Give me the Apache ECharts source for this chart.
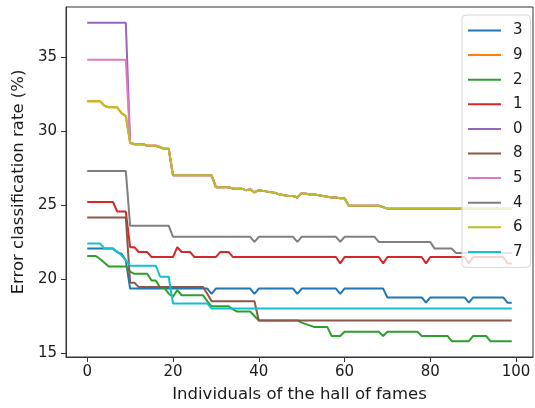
<!DOCTYPE html>
<html>
<head>
<meta charset="utf-8">
<script src="https://cdn.jsdelivr.net/npm/echarts@6/dist/echarts.min.js"></script>
<style>
  html, body { margin: 0; padding: 0; background: #fff; }
  #chart { width: 535px; height: 408px; }
</style>
</head>
<body>
<div id="chart"></div>
<script>
// legend order / series names
const names = ['3', '9', '2', '1', '0', '8', '5', '4', '6', '7']
const colors = ['#1f77b4', '#ff7f0e', '#2ca02c', '#d62728', '#9467bd',
  '#8c564b', '#e377c2', '#7f7f7f', '#bcbd22', '#17becf']

const xTicks = [0, 20, 40, 60, 80, 100]
const yTicks = [15, 20, 25, 30, 35]

// error classification rate (%) for individuals 0..99
const s3 = [
  22.05, 22.05, 22.05, 22.05, 22.05, 22.05, 22.05, 21.8, 21.7, 21.25,
  19.35, 19.35, 19.35, 19.35, 19.35, 19.35, 19.35, 19.35, 19.35, 19.35,
  19.35, 19.35, 19.35, 19.35, 19.35, 19.35, 19.35, 19.35, 19.35, 19.0,
  19.35, 19.35, 19.35, 19.35, 19.35, 19.35, 19.35, 19.35, 19.35, 19.0,
  19.35, 19.35, 19.35, 19.35, 19.35, 19.35, 19.35, 19.35, 19.35, 19.0,
  19.35, 19.35, 19.35, 19.35, 19.35, 19.35, 19.35, 19.35, 19.35, 19.0,
  19.35, 19.35, 19.35, 19.35, 19.35, 19.35, 19.35, 19.35, 19.35, 19.35,
  18.75, 18.75, 18.75, 18.75, 18.75, 18.75, 18.75, 18.75, 18.75, 18.4,
  18.75, 18.75, 18.75, 18.75, 18.75, 18.75, 18.75, 18.75, 18.75, 18.4,
  18.75, 18.75, 18.75, 18.75, 18.75, 18.75, 18.75, 18.75, 18.4, 18.4
]
const s6 = [
  32.0, 32.0, 32.0, 32.0, 31.7, 31.6, 31.6, 31.6, 31.2, 31.0,
  29.2, 29.1, 29.1, 29.1, 29.0, 29.0, 29.0, 28.9, 28.8, 28.8,
  27.0, 27.0, 27.0, 27.0, 27.0, 27.0, 27.0, 27.0, 27.0, 27.0,
  26.2, 26.2, 26.2, 26.2, 26.1, 26.1, 26.1, 26.0, 26.05, 25.85,
  26.0, 25.95, 25.9, 25.85, 25.8, 25.7, 25.65, 25.6, 25.6, 25.5,
  25.8, 25.75, 25.7, 25.7, 25.65, 25.6, 25.55, 25.5, 25.5, 25.45,
  25.45, 24.95, 24.95, 24.95, 24.95, 24.95, 24.95, 24.95, 24.95, 24.85,
  24.75, 24.75, 24.75, 24.75, 24.75, 24.75, 24.75, 24.75, 24.75, 24.75,
  24.75, 24.75, 24.75, 24.75, 24.75, 24.75, 24.75, 24.75, 24.75, 24.75,
  24.75, 24.75, 24.75, 24.75, 24.75, 24.75, 24.75, 24.75, 24.75, 24.75
]
// 9 lies fully under 6
const s9 = s6.slice()
const s2 = [
  21.55, 21.55, 21.55, 21.35, 21.1, 20.85, 20.85, 20.85, 20.85, 20.85,
  20.5, 20.35, 20.35, 20.35, 20.35, 19.9, 19.9, 19.4, 19.4, 19.0,
  18.8, 19.25, 18.9, 18.9, 18.9, 18.9, 18.9, 18.9, 18.5, 18.15,
  18.15, 18.15, 18.15, 18.15, 17.95, 17.8, 17.8, 17.8, 17.8, 17.5,
  17.2, 17.2, 17.2, 17.2, 17.2, 17.2, 17.2, 17.2, 17.2, 17.2,
  17.05, 16.95, 16.85, 16.75, 16.75, 16.75, 16.75, 16.15, 16.15, 16.15,
  16.43, 16.43, 16.43, 16.43, 16.43, 16.43, 16.43, 16.43, 16.43, 16.15,
  16.43, 16.43, 16.43, 16.43, 16.43, 16.43, 16.43, 16.43, 16.15, 16.15,
  16.15, 16.15, 16.15, 16.15, 16.15, 15.8, 15.8, 15.8, 15.8, 15.8,
  16.15, 16.15, 16.15, 16.15, 15.8, 15.8, 15.8, 15.8, 15.8, 15.8
]
const s1 = [
  25.2, 25.2, 25.2, 25.2, 25.2, 25.2, 25.2, 24.55, 24.55, 24.55,
  22.15, 22.15, 21.82, 21.82, 21.82, 21.48, 21.48, 21.48, 21.48, 21.48,
  21.48, 22.15, 21.82, 21.82, 21.82, 21.48, 21.48, 21.48, 21.48, 21.48,
  21.48, 21.82, 21.82, 21.82, 21.48, 21.48, 21.48, 21.48, 21.48, 21.48,
  21.48, 21.48, 21.48, 21.48, 21.48, 21.48, 21.48, 21.48, 21.48, 21.48,
  21.48, 21.48, 21.48, 21.48, 21.48, 21.48, 21.48, 21.48, 21.48, 21.05,
  21.48, 21.48, 21.48, 21.48, 21.48, 21.48, 21.48, 21.48, 21.48, 21.05,
  21.48, 21.48, 21.48, 21.48, 21.48, 21.48, 21.48, 21.48, 21.48, 21.05,
  21.48, 21.48, 21.48, 21.48, 21.48, 21.48, 21.48, 21.48, 21.48, 21.05,
  21.48, 21.48, 21.48, 21.48, 21.48, 21.48, 21.48, 21.48, 21.05, 21.05
]
const s0 = [
  37.3, 37.3, 37.3, 37.3, 37.3, 37.3, 37.3, 37.3, 37.3, 37.3,
  29.2, 29.1, 29.1, 29.1, 29.0, 29.0, 29.0, 28.9, 28.8, 28.8,
  27.0, 27.0, 27.0, 27.0, 27.0, 27.0, 27.0, 27.0, 27.0, 27.0,
  26.2, 26.2, 26.2, 26.2, 26.1, 26.1, 26.1, 26.0, 26.05, 25.85,
  26.0, 25.95, 25.9, 25.85, 25.8, 25.7, 25.65, 25.6, 25.6, 25.5,
  25.8, 25.75, 25.7, 25.7, 25.65, 25.6, 25.55, 25.5, 25.5, 25.45,
  25.45, 24.95, 24.95, 24.95, 24.95, 24.95, 24.95, 24.95, 24.95, 24.85,
  24.75, 24.75, 24.75, 24.75, 24.75, 24.75, 24.75, 24.75, 24.75, 24.75,
  24.75, 24.75, 24.75, 24.75, 24.75, 24.75, 24.75, 24.75, 24.75, 24.75,
  24.75, 24.75, 24.75, 24.75, 24.75, 24.75, 24.75, 24.75, 24.75, 24.75
]
const s8 = [
  24.15, 24.15, 24.15, 24.15, 24.15, 24.15, 24.15, 24.15, 24.15, 24.15,
  19.75, 19.75, 19.45, 19.45, 19.45, 19.45, 19.45, 19.45, 19.45, 19.45,
  19.45, 19.45, 19.45, 19.45, 19.45, 19.45, 19.45, 19.45, 19.0, 18.5,
  18.5, 18.5, 18.5, 18.5, 18.5, 18.5, 18.5, 18.5, 18.5, 18.5,
  17.2, 17.2, 17.2, 17.2, 17.2, 17.2, 17.2, 17.2, 17.2, 17.2,
  17.2, 17.2, 17.2, 17.2, 17.2, 17.2, 17.2, 17.2, 17.2, 17.2,
  17.2, 17.2, 17.2, 17.2, 17.2, 17.2, 17.2, 17.2, 17.2, 17.2,
  17.2, 17.2, 17.2, 17.2, 17.2, 17.2, 17.2, 17.2, 17.2, 17.2,
  17.2, 17.2, 17.2, 17.2, 17.2, 17.2, 17.2, 17.2, 17.2, 17.2,
  17.2, 17.2, 17.2, 17.2, 17.2, 17.2, 17.2, 17.2, 17.2, 17.2
]
const s5 = [
  34.8, 34.8, 34.8, 34.8, 34.8, 34.8, 34.8, 34.8, 34.8, 34.8,
  29.2, 29.1, 29.1, 29.1, 29.0, 29.0, 29.0, 28.9, 28.8, 28.8,
  27.0, 27.0, 27.0, 27.0, 27.0, 27.0, 27.0, 27.0, 27.0, 27.0,
  26.2, 26.2, 26.2, 26.2, 26.1, 26.1, 26.1, 26.0, 26.05, 25.85,
  26.0, 25.95, 25.9, 25.85, 25.8, 25.7, 25.65, 25.6, 25.6, 25.5,
  25.8, 25.75, 25.7, 25.7, 25.65, 25.6, 25.55, 25.5, 25.5, 25.45,
  25.45, 24.95, 24.95, 24.95, 24.95, 24.95, 24.95, 24.95, 24.95, 24.85,
  24.75, 24.75, 24.75, 24.75, 24.75, 24.75, 24.75, 24.75, 24.75, 24.75,
  24.75, 24.75, 24.75, 24.75, 24.75, 24.75, 24.75, 24.75, 24.75, 24.75,
  24.75, 24.75, 24.75, 24.75, 24.75, 24.75, 24.75, 24.75, 24.75, 24.75
]
const s4 = [
  27.3, 27.3, 27.3, 27.3, 27.3, 27.3, 27.3, 27.3, 27.3, 27.3,
  23.6, 23.6, 23.6, 23.6, 23.6, 23.6, 23.6, 23.6, 23.6, 23.6,
  22.85, 22.85, 22.85, 22.85, 22.85, 22.85, 22.85, 22.85, 22.85, 22.85,
  22.85, 22.85, 22.85, 22.85, 22.85, 22.85, 22.85, 22.85, 22.85, 22.5,
  22.85, 22.85, 22.85, 22.85, 22.85, 22.85, 22.85, 22.85, 22.85, 22.5,
  22.85, 22.85, 22.85, 22.85, 22.85, 22.85, 22.85, 22.85, 22.85, 22.5,
  22.85, 22.85, 22.85, 22.85, 22.85, 22.85, 22.85, 22.85, 22.5, 22.5,
  22.5, 22.5, 22.5, 22.5, 22.5, 22.5, 22.5, 22.5, 22.5, 22.5,
  22.5, 22.05, 22.05, 22.05, 22.05, 22.05, 21.75, 21.75, 21.75, 21.75,
  21.75, 21.75, 21.75, 21.75, 21.75, 21.75, 21.75, 21.75, 21.75, 21.75
]
const s7 = [
  22.4, 22.4, 22.4, 22.4, 22.05, 22.05, 22.05, 21.85, 21.6, 21.25,
  20.9, 20.9, 20.9, 20.9, 20.9, 20.9, 20.9, 20.15, 20.15, 20.15,
  18.35, 18.35, 18.35, 18.35, 18.35, 18.35, 18.35, 18.35, 18.35, 18.0,
  18.0, 18.0, 18.0, 18.0, 18.0, 18.0, 18.0, 18.0, 18.0, 18.0,
  18.0, 18.0, 18.0, 18.0, 18.0, 18.0, 18.0, 18.0, 18.0, 18.0,
  18.0, 18.0, 18.0, 18.0, 18.0, 18.0, 18.0, 18.0, 18.0, 18.0,
  18.0, 18.0, 18.0, 18.0, 18.0, 18.0, 18.0, 18.0, 18.0, 18.0,
  18.0, 18.0, 18.0, 18.0, 18.0, 18.0, 18.0, 18.0, 18.0, 18.0,
  18.0, 18.0, 18.0, 18.0, 18.0, 18.0, 18.0, 18.0, 18.0, 18.0,
  18.0, 18.0, 18.0, 18.0, 18.0, 18.0, 18.0, 18.0, 18.0, 18.0
]

const seriesValues = [s3, s9, s2, s1, s0, s8, s5, s4, s6, s7]
const textColor = '#1a1a1a'
const font = 'DejaVu Sans'

const chart = echarts.init(document.getElementById('chart'), null, { renderer: 'canvas' })

chart.setOption({
  animation: false,
  backgroundColor: '#fff',
  grid: {
    left: 66,
    top: 7,
    right: 2,
    bottom: 51,
    show: true,
    borderColor: '#333',
    borderWidth: 1
  },
  legend: {
    data: names,
    orient: 'vertical',
    left: 462,
    top: 15,
    icon: 'rect',
    itemWidth: 33,
    itemHeight: 2,
    itemGap: 9.6,
    padding: [8, 8, 8, 6],
    backgroundColor: 'rgba(255,255,255,0.8)',
    borderColor: '#d5d5d5',
    borderWidth: 1,
    borderRadius: 4,
    textStyle: {
      fontFamily: font, fontSize: 15, lineHeight: 14, color: textColor, padding: [0, 0, 0, 7]
    }
  },
  xAxis: {
    type: 'value',
    min: -4.95,
    max: 103.95,
    name: 'Individuals of the hall of fames',
    nameLocation: 'middle',
    nameGap: 29,
    nameTextStyle: { fontFamily: font, fontSize: 16.5, color: textColor },
    axisLine: { show: true, onZero: false, lineStyle: { color: '#333', width: 1 } },
    axisTick: { show: true, length: 5, customValues: xTicks, lineStyle: { color: '#333' } },
    axisLabel: { customValues: xTicks, margin: 8, fontFamily: font, fontSize: 15, color: textColor },
    splitLine: { show: false }
  },
  yAxis: {
    type: 'value',
    min: 14.73,
    max: 38.37,
    name: 'Error classification rate (%)',
    nameLocation: 'middle',
    nameGap: 34,
    nameTextStyle: { fontFamily: font, fontSize: 16.5, color: textColor },
    axisLine: { show: true, onZero: false, lineStyle: { color: '#333', width: 1 } },
    axisTick: { show: true, length: 5, customValues: yTicks, lineStyle: { color: '#333' } },
    axisLabel: { customValues: yTicks, margin: 9, fontFamily: font, fontSize: 15, color: textColor },
    splitLine: { show: false }
  },
  series: names.map((name, k) => ({
    name,
    type: 'line',
    symbol: 'none',
    color: colors[k],
    lineStyle: { width: 2, color: colors[k] },
    data: seriesValues[k].map((v, i) => [i, v])
  }))
})
</script>
</body>
</html>
